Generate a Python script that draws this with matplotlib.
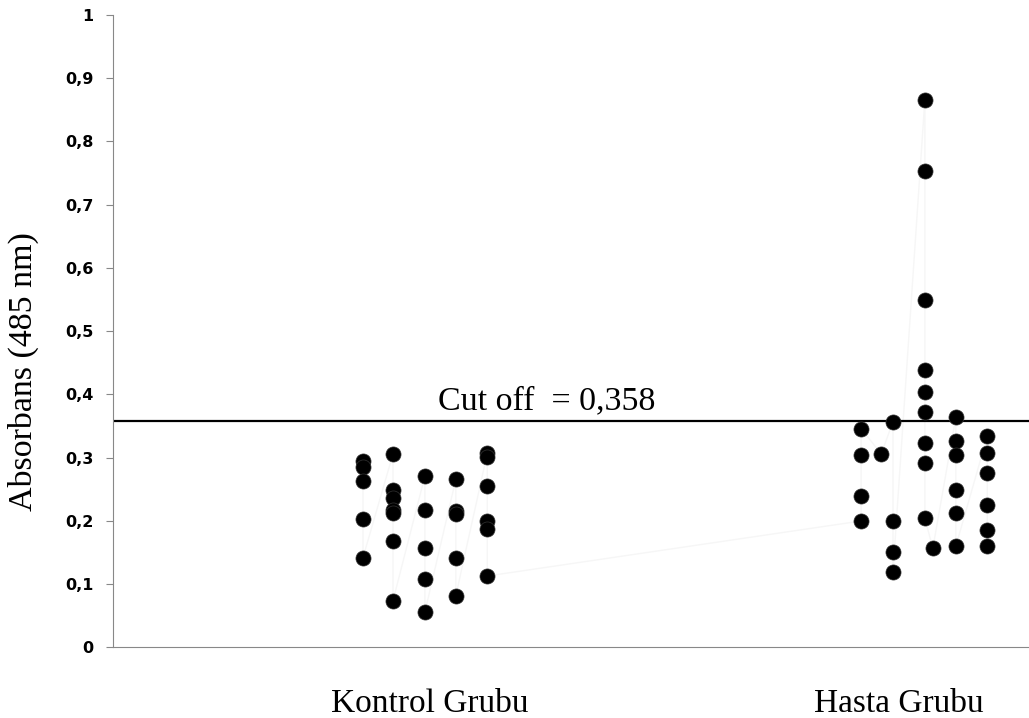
import matplotlib
matplotlib.use('Agg')
import matplotlib.pyplot as plt

# absorbance readings, x offsets are the jitter within each group
groups = ['Kontrol Grubu', 'Hasta Grubu']

kontrol_dx = [-0.143, -0.143, -0.143, -0.143, -0.143,
              -0.079, -0.079, -0.079, -0.079, -0.079, -0.079, -0.079,
              -0.011, -0.011, -0.011, -0.011, -0.011,
              0.055, 0.055, 0.055, 0.055, 0.055,
              0.122, 0.122, 0.122, 0.122, 0.122, 0.122]
kontrol_abs = [0.295, 0.286, 0.263, 0.203, 0.142,
               0.306, 0.249, 0.237, 0.217, 0.212, 0.169, 0.074,
               0.271, 0.217, 0.157, 0.108, 0.056,
               0.266, 0.215, 0.211, 0.141, 0.082,
               0.307, 0.301, 0.256, 0.200, 0.187, 0.113]

hasta_dx = [-0.081, -0.081, -0.081, -0.081,
            -0.038,
            -0.013, -0.013, -0.013, -0.013,
            0.055, 0.055, 0.055, 0.055, 0.055, 0.055, 0.055, 0.055, 0.055,
            0.072,
            0.121, 0.121, 0.121, 0.121, 0.121, 0.121,
            0.188, 0.188, 0.188, 0.188, 0.188, 0.188]
hasta_abs = [0.200, 0.239, 0.304, 0.346,
             0.306,
             0.357, 0.200, 0.151, 0.120,
             0.866, 0.753, 0.550, 0.438, 0.404, 0.373, 0.324, 0.291, 0.204,
             0.157,
             0.364, 0.327, 0.305, 0.249, 0.212, 0.160,
             0.334, 0.308, 0.276, 0.225, 0.185, 0.161]

cut_off = 0.358

xs = [1 + d for d in kontrol_dx] + [2 + d for d in hasta_dx]
ys = kontrol_abs + hasta_abs

fig = plt.figure(figsize=(10.29, 7.18), dpi=100)
ax = fig.add_axes([0.1098, 0.0982, 0.8902, 0.881])

# faint connecting line left over from the series
ax.plot(xs, ys, color='#f6f6f6', lw=1, zorder=1)
ax.scatter(xs, ys, s=118, c='black', edgecolors='#333333', linewidths=0.5, zorder=3)

ax.axhline(cut_off, color='black', lw=1.6, zorder=2)
ax.text(1.017, cut_off + 0.007, 'Cut off  = ' + ('%.3f' % cut_off).replace('.', ','),
        family='Liberation Serif', fontsize=24.5, ha='left', va='bottom')

ax.set_xlim(0.324, 2.277)
ax.set_ylim(0, 1)
ax.set_yticks([i / 10 for i in range(11)])
ax.set_yticklabels(['0'] + [('%.1f' % (i / 10)).replace('.', ',') for i in range(1, 10)] + ['1'],
                   fontsize=11.5, fontweight='heavy', family='DejaVu Sans')
ax.tick_params(axis='y', direction='out', length=5, width=0.8, color='#888888', pad=9)
ax.set_xticks([])

for xi, name in zip([1, 2], groups):
    ax.text(xi, -0.065, name, family='Liberation Serif', fontsize=24,
            ha='center', va='top', transform=ax.transData)

ax.set_ylabel('Absorbans (485 nm)', family='Liberation Serif', fontsize=24.5, va='center')
ax.yaxis.set_label_coords(-0.0983, 0.437)

for s in ['top', 'right']:
    ax.spines[s].set_visible(False)
for s in ['left', 'bottom']:
    ax.spines[s].set_color('#888888')
    ax.spines[s].set_linewidth(0.8)

fig.savefig('out.png', dpi=100)
